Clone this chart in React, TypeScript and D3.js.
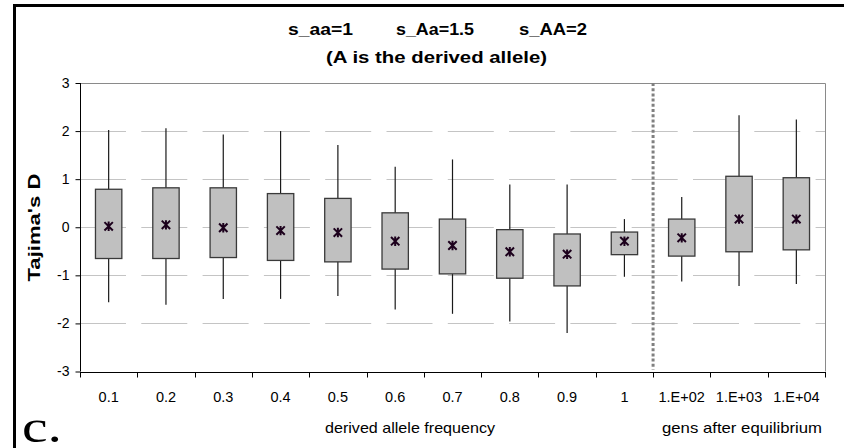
import React, { useEffect, useRef } from 'react';
import * as d3 from 'd3';

// categories on the x axis (the last three are generations after equilibrium)
const categories = ['0.1', '0.2', '0.3', '0.4', '0.5', '0.6', '0.7', '0.8', '0.9', '1', '1.E+02', '1.E+03', '1.E+04'];

// Tajima's D summary per category
const whiskerHigh = [2.02, 2.06, 1.93, 2.0, 1.71, 1.26, 1.41, 0.89, 0.89, 0.17, 0.63, 2.33, 2.24];
const boxTop = [0.79, 0.82, 0.82, 0.7, 0.6, 0.3, 0.17, -0.05, -0.14, -0.1, 0.17, 1.06, 1.03];
const boxBottom = [-0.65, -0.65, -0.63, -0.69, -0.72, -0.87, -0.97, -1.06, -1.22, -0.57, -0.6, -0.51, -0.47];
const whiskerLow = [-1.56, -1.61, -1.49, -1.49, -1.43, -1.71, -1.8, -1.96, -2.2, -1.03, -1.13, -1.22, -1.18];
const means = [0.02, 0.05, -0.01, -0.07, -0.11, -0.29, -0.38, -0.51, -0.56, -0.29, -0.22, 0.17, 0.17];

const yTicks = [-3, -2, -1, 0, 1, 2, 3];
const gridValues = [-2, -1, 0, 1, 2];

const FONT = '"Liberation Sans", Arial, sans-serif';

const App: React.FC = () => {
  const svgRef = useRef<SVGSVGElement | null>(null);

  useEffect(() => {
    if (!svgRef.current) return;
    const svg = d3.select(svgRef.current);
    svg.selectAll('*').remove();

    const width = 844;
    const height = 448;
    const plot = { left: 80, right: 825, top: 83, bottom: 371.5 };

    const xScale = d3.scaleBand<string>()
      .domain(categories)
      .range([plot.left, plot.right])
      .padding(0);

    const yScale = d3.scaleLinear()
      .domain([-3, 3])
      .range([plot.bottom, plot.top]);

    svg.append('rect').attr('width', width).attr('height', height).attr('fill', '#fff');

    // page frame (thick black top and left edges)
    svg.append('rect').attr('x', 13).attr('y', 4).attr('width', width - 13).attr('height', 3).attr('fill', '#000');
    svg.append('rect').attr('x', 13).attr('y', 4).attr('width', 3).attr('height', height - 4).attr('fill', '#000');

    // gridlines
    svg.append('g')
      .selectAll('line')
      .data(gridValues)
      .enter().append('line')
      .attr('x1', plot.left)
      .attr('x2', plot.right)
      .attr('y1', d => Math.round(yScale(d)) + 0.5)
      .attr('y2', d => Math.round(yScale(d)) + 0.5)
      .attr('stroke', '#c4c4c4')
      .attr('stroke-width', 1)
      .attr('stroke-dasharray', '46 15.3');

    // plot area border top + right
    svg.append('path')
      .attr('d', `M${plot.left},${plot.top + 0.5}H${plot.right + 0.5}V${plot.bottom}`)
      .attr('fill', 'none')
      .attr('stroke', '#8a8a8a')
      .attr('stroke-width', 1);

    // separator between frequency and generations
    const sepX = xScale('1.E+02')!;
    svg.append('line')
      .attr('x1', sepX).attr('x2', sepX)
      .attr('y1', plot.top).attr('y2', plot.bottom - 2)
      .attr('stroke', '#808080')
      .attr('stroke-width', 3)
      .attr('stroke-dasharray', '3 2.2');

    // boxes
    const boxW = xScale.bandwidth() * 0.46;
    const groups = svg.append('g')
      .selectAll('g.box')
      .data(categories)
      .enter().append('g')
      .attr('class', 'box');

    groups.append('line')
      .attr('x1', d => xScale(d)! + xScale.bandwidth() / 2)
      .attr('x2', d => xScale(d)! + xScale.bandwidth() / 2)
      .attr('y1', (d, i) => yScale(whiskerHigh[i]))
      .attr('y2', (d, i) => yScale(whiskerLow[i]))
      .attr('stroke', '#1a1a1a')
      .attr('stroke-width', 1.2);

    groups.append('rect')
      .attr('x', d => xScale(d)! + (xScale.bandwidth() - boxW) / 2)
      .attr('y', (d, i) => yScale(boxTop[i]))
      .attr('width', boxW)
      .attr('height', (d, i) => yScale(boxBottom[i]) - yScale(boxTop[i]))
      .attr('fill', '#c0c0c0')
      .attr('stroke', '#3a3a3a')
      .attr('stroke-width', 1.3);

    // mean marker (excel star: x with a vertical bar)
    const s = 4.2;
    groups.append('path')
      .attr('transform', (d, i) => `translate(${xScale(d)! + xScale.bandwidth() / 2},${yScale(means[i])})`)
      .attr('d', `M${-s},${-s}L${s},${s}M${-s},${s}L${s},${-s}M0,${-s - 0.5}V${s + 0.5}`)
      .attr('stroke', '#1c001c')
      .attr('stroke-width', 2)
      .attr('fill', 'none');

    // axes
    const yAxis = svg.append('g')
      .attr('transform', `translate(${plot.left + 0.5},0)`)
      .call(d3.axisLeft(yScale).tickValues(yTicks).tickSize(5).tickPadding(6).tickFormat(d => String(d)));
    yAxis.select('.domain').attr('stroke', '#000').attr('d', `M0,${plot.top}V${plot.bottom}`);
    yAxis.selectAll('.tick line').attr('stroke', '#000');
    yAxis.selectAll('.tick text')
      .attr('font-family', FONT)
      .attr('font-size', 14)
      .attr('fill', '#000');

    const xAxis = svg.append('g')
      .attr('transform', `translate(0,${Math.round(plot.bottom) + 0.5})`);
    xAxis.append('line')
      .attr('x1', plot.left).attr('x2', plot.right + 1)
      .attr('stroke', '#000');
    xAxis.selectAll('line.tk')
      .data(d3.range(categories.length + 1))
      .enter().append('line')
      .attr('class', 'tk')
      .attr('x1', i => Math.round(plot.left + i * xScale.step()) + 0.5)
      .attr('x2', i => Math.round(plot.left + i * xScale.step()) + 0.5)
      .attr('y1', 0).attr('y2', 5)
      .attr('stroke', '#000');
    xAxis.selectAll('text')
      .data(categories)
      .enter().append('text')
      .attr('x', d => xScale(d)! + xScale.bandwidth() / 2)
      .attr('y', 29)
      .attr('text-anchor', 'middle')
      .attr('font-family', FONT)
      .attr('font-size', 14.5)
      .text(d => d);

    // titles
    const title1 = [
      { text: 's_aa=1', x: 288, w: 65 },
      { text: 's_Aa=1.5', x: 396, w: 78 },
      { text: 's_AA=2', x: 519, w: 68 },
    ];
    svg.append('g')
      .selectAll('text')
      .data(title1)
      .enter().append('text')
      .attr('x', d => d.x)
      .attr('y', 35)
      .attr('font-family', FONT)
      .attr('font-weight', 'bold')
      .attr('font-size', 16.5)
      .attr('textLength', d => d.w)
      .attr('lengthAdjust', 'spacingAndGlyphs')
      .text(d => d.text);

    svg.append('text')
      .attr('x', 326).attr('y', 63)
      .attr('font-family', FONT)
      .attr('font-weight', 'bold')
      .attr('font-size', 16.5)
      .attr('textLength', 221)
      .attr('lengthAdjust', 'spacingAndGlyphs')
      .text('(A is the derived allele)');

    svg.append('text')
      .attr('transform', 'translate(39.5,281.5) rotate(-90)')
      .attr('font-family', FONT)
      .attr('font-weight', 'bold')
      .attr('font-size', 16.5)
      .attr('textLength', 108)
      .attr('lengthAdjust', 'spacingAndGlyphs')
      .text("Tajima's D");

    svg.append('text')
      .attr('x', 325).attr('y', 433)
      .attr('font-family', FONT)
      .attr('font-size', 15)
      .attr('textLength', 170)
      .attr('lengthAdjust', 'spacingAndGlyphs')
      .text('derived allele frequency');

    svg.append('text')
      .attr('x', 662).attr('y', 433)
      .attr('font-family', FONT)
      .attr('font-size', 15)
      .attr('textLength', 160)
      .attr('lengthAdjust', 'spacingAndGlyphs')
      .text('gens after equilibrium');

    svg.append('text')
      .attr('x', 22).attr('y', 442)
      .attr('font-family', '"Liberation Serif", "Times New Roman", serif')
      .attr('font-size', 46)
      .attr('textLength', 40)
      .attr('lengthAdjust', 'spacingAndGlyphs')
      .text('c.');
  }, []);

  return (
    <div style={{ position: 'absolute', left: 0, top: 0 }}>
      <svg ref={svgRef} width={844} height={448} style={{ display: 'block' }} />
    </div>
  );
};

export default App;
